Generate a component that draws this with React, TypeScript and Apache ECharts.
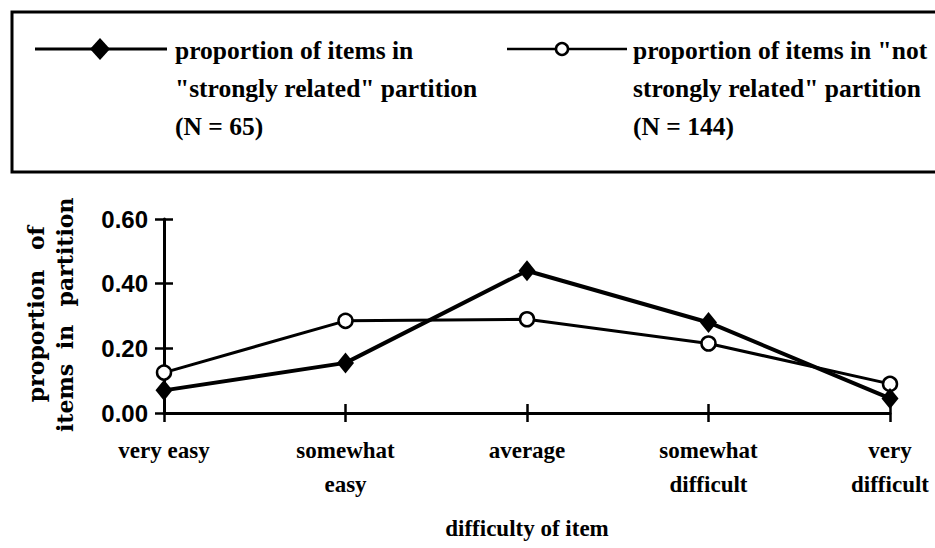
import React, { useEffect, useRef } from "react";
import * as echarts from "echarts";

const categories = ["very easy", "somewhat\neasy", "average", "somewhat\ndifficult", "very\ndifficult"];
const stronglyRelated = [0.07, 0.155, 0.44, 0.28, 0.045];
const notStronglyRelated = [0.125, 0.285, 0.29, 0.215, 0.09];
const yTicks = [0, 0.2, 0.4, 0.6];
const legendStrong = ["proportion of items in", "\"strongly related\" partition", "(N = 65)"];
const legendNot = ["proportion of items in \"not", "strongly related\" partition", "(N = 144)"];
const xAxisTitle = "difficulty of item";
const yTitleLeft = ["proportion", "of"];
const yTitleRight = ["items", "in", "partition"];

const SERIF = "'Liberation Serif', 'Times New Roman', serif";
const SLAB = "'DejaVu Serif', serif";
const SANS = "'Liberation Sans', Arial, sans-serif";

export default function App() {
  const ref = useRef<HTMLDivElement>(null);
  useEffect(() => {
    if (!ref.current) return;
    const chart = echarts.init(ref.current, null, { renderer: "svg" });
    const yMin = yTicks[0];
    const yMax = yTicks[yTicks.length - 1];
    const yStep = yTicks[1] - yTicks[0];
    const legendText = (lines: string[], x: number) =>
      lines.map((t, i) => ({
        type: "text",
        left: x,
        top: 37 + i * 38,
        style: { text: t, font: `bold 25.5px ${SERIF}`, fill: "#000" },
      }));
    const rotWord = (t: string, x: number, y: number) => ({
      type: "text",
      x,
      y,
      rotation: Math.PI / 2,
      style: { text: t, font: `bold 22px ${SLAB}`, fill: "#000", align: "center", verticalAlign: "middle" },
    });
    chart.setOption({
      animation: false,
      backgroundColor: "#fff",
      grid: { left: 164, right: 45, top: 219, bottom: 135, containLabel: false },
      xAxis: [
        {
          type: "category",
          data: categories,
          boundaryGap: false,
          position: "bottom",
          offset: 0,
          axisLine: { lineStyle: { color: "#000", width: 3 } },
          axisTick: { show: true, length: 9, lineStyle: { color: "#000", width: 2.5 } },
          axisLabel: {
            color: "#000",
            fontFamily: SERIF,
            fontWeight: "bold",
            fontSize: 23,
            lineHeight: 34,
            margin: 20,
            interval: 0,
          },
          name: xAxisTitle,
          nameLocation: "middle",
          nameGap: 104,
          nameTextStyle: { color: "#000", fontFamily: SERIF, fontWeight: "bold", fontSize: 23 },
        },
        {
          type: "category",
          data: categories,
          boundaryGap: false,
          position: "bottom",
          offset: 0,
          axisLine: { show: false },
          axisTick: { show: true, inside: true, length: 9, lineStyle: { color: "#000", width: 2.5 } },
          axisLabel: { show: false },
        },
      ],
      yAxis: [
        {
          type: "value",
          min: yMin,
          max: yMax,
          interval: yStep,
          position: "left",
          offset: 0,
          splitLine: { show: false },
          axisLine: { show: true, lineStyle: { color: "#000", width: 3 } },
          axisTick: { show: true, length: 9, lineStyle: { color: "#000", width: 2.5 } },
          axisLabel: {
            color: "#000",
            fontFamily: SANS,
            fontWeight: "bold",
            fontSize: 24,
            margin: 16,
            formatter: (v: number) => v.toFixed(2),
          },
        },
        {
          type: "value",
          min: yMin,
          max: yMax,
          interval: yStep,
          position: "left",
          offset: 0,
          splitLine: { show: false },
          axisLine: { show: false },
          axisTick: { show: true, inside: true, length: 9, lineStyle: { color: "#000", width: 2.5 } },
          axisLabel: { show: false },
        },
      ],
      series: [
        {
          name: "not strongly related",
          type: "line",
          data: notStronglyRelated,
          symbol: "circle",
          symbolSize: 14,
          lineStyle: { color: "#000", width: 3 },
          itemStyle: { color: "#fff", borderColor: "#000", borderWidth: 2.5 },
          z: 3,
        },
        {
          name: "strongly related",
          type: "line",
          data: stronglyRelated,
          symbol: "diamond",
          symbolSize: [17, 21],
          lineStyle: { color: "#000", width: 4 },
          itemStyle: { color: "#000" },
          z: 4,
        },
      ],
      graphic: [
        {
          type: "rect",
          shape: { x: 12, y: 12, width: 940, height: 160 },
          style: { fill: "none", stroke: "#000", lineWidth: 3 },
        },
        { type: "line", shape: { x1: 35, y1: 49, x2: 167, y2: 49 }, style: { stroke: "#000", lineWidth: 3 } },
        {
          type: "polygon",
          shape: { points: [[100, 38], [110, 49], [100, 60], [90, 49]] },
          style: { fill: "#000" },
        },
        { type: "line", shape: { x1: 507, y1: 49, x2: 627, y2: 49 }, style: { stroke: "#000", lineWidth: 2.5 } },
        {
          type: "circle",
          shape: { cx: 562, cy: 49, r: 6 },
          style: { fill: "#fff", stroke: "#000", lineWidth: 2.5 },
        },
        ...legendText(legendStrong, 175),
        ...legendText(legendNot, 633),
        rotWord(yTitleLeft[0], 36, 336),
        rotWord(yTitleLeft[1], 36, 238),
        rotWord(yTitleRight[0], 65, 398),
        rotWord(yTitleRight[1], 65, 337),
        rotWord(yTitleRight[2], 65, 252),
      ],
    });
    return () => chart.dispose();
  }, []);
  return (
    <div
      ref={ref}
      style={{ position: "fixed", left: 0, top: 0, width: 935, height: 548, background: "#fff" }}
    />
  );
}
